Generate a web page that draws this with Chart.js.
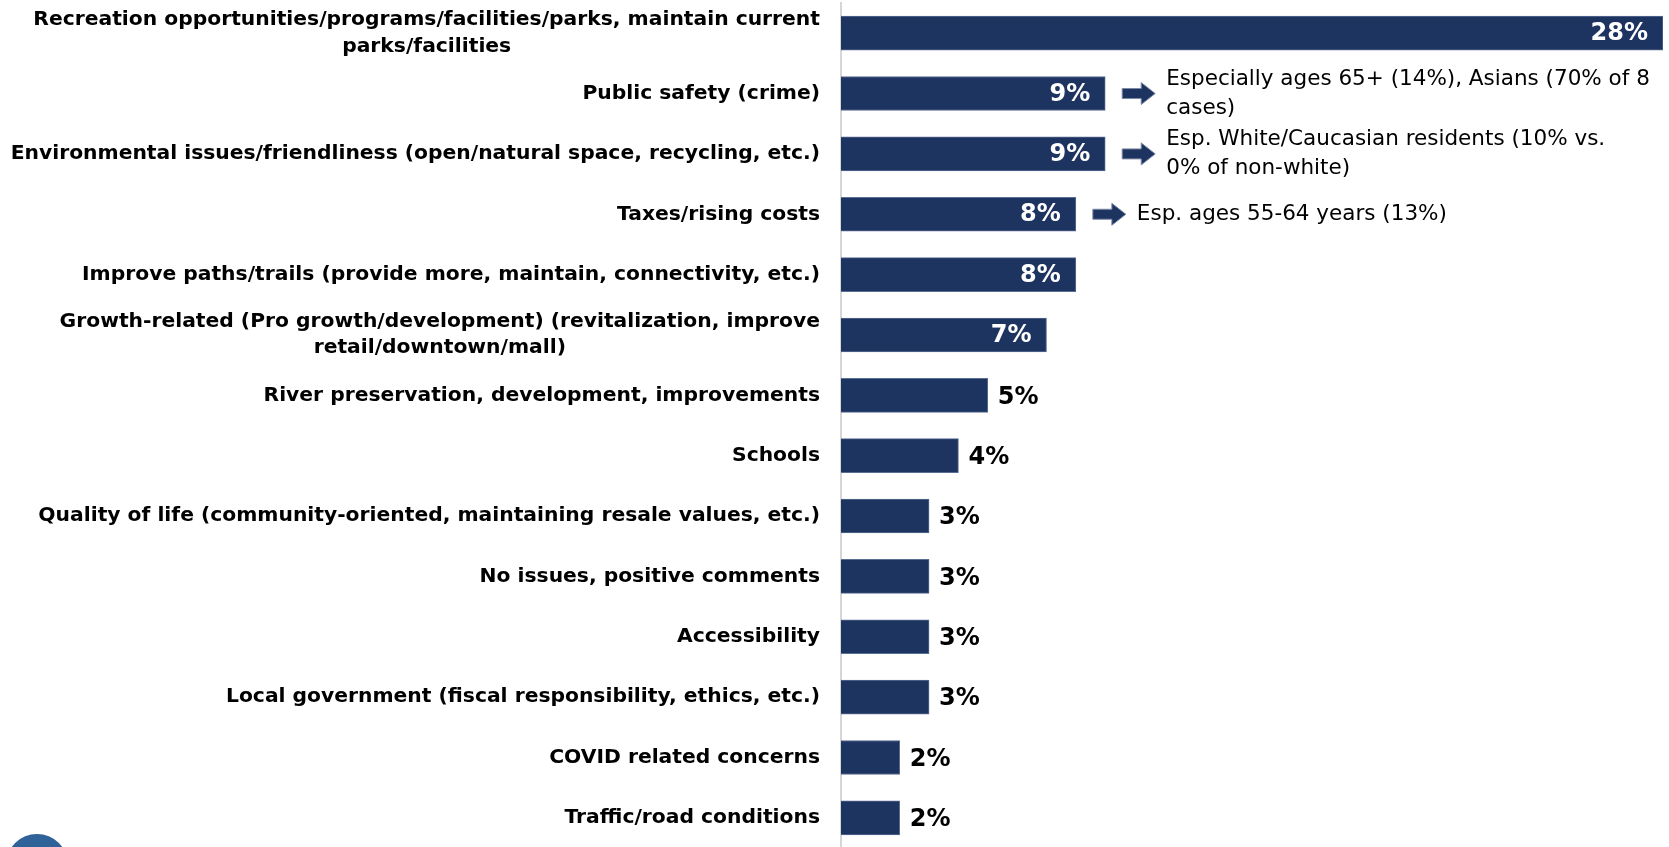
<!DOCTYPE html>
<html lang="en">
<head>
<meta charset="UTF-8">
<title>Most important issues</title>
<script src="https://cdn.jsdelivr.net/npm/chart.js"></script>
<style>
  html, body { margin: 0; padding: 0; background: #fff; overflow: hidden; }
  #wrap { position: relative; width: 1669px; height: 852px; }
</style>
</head>
<body>
<div id="wrap"><canvas id="chart"></canvas></div>
<script>
const categories = [
  ['Recreation opportunities/programs/facilities/parks, maintain current', 'parks/facilities'],
  'Public safety (crime)',
  'Environmental issues/friendliness (open/natural space, recycling, etc.)',
  'Taxes/rising costs',
  'Improve paths/trails (provide more, maintain, connectivity, etc.)',
  ['Growth-related (Pro growth/development) (revitalization, improve', 'retail/downtown/mall)'],
  'River preservation, development, improvements',
  'Schools',
  'Quality of life (community-oriented, maintaining resale values, etc.)',
  'No issues, positive comments',
  'Accessibility',
  'Local government (fiscal responsibility, ethics, etc.)',
  'COVID related concerns',
  'Traffic/road conditions'
];
const percents = [28, 9, 9, 8, 8, 7, 5, 4, 3, 3, 3, 3, 2, 2];
const notes = [
  null,
  ['Especially ages 65+ (14%), Asians (70% of 8', 'cases)'],
  ['Esp. White/Caucasian residents (10% vs.', '0% of non-white)'],
  ['Esp. ages 55-64 years (13%)']
];

const NAVY = '#1d3360';
const insideFrom = 6; // values at or above this get their label inside the bar

// draws category labels, value labels, callouts and the corner logo
const decorations = {
  id: 'decorations',
  afterDraw(chart) {
    const ctx = chart.ctx;
    const yScale = chart.scales.y;
    const area = chart.chartArea;
    const bars = chart.getDatasetMeta(0).data;
    ctx.save();

    // category labels (multi-line ones centred on themselves)
    ctx.font = 'bold 20.3px "DejaVu Sans"';
    ctx.fillStyle = '#000';
    ctx.textBaseline = 'middle';
    ctx.textAlign = 'center';
    categories.forEach((lab, i) => {
      const lines = Array.isArray(lab) ? lab : [lab];
      const w = Math.max(...lines.map(l => ctx.measureText(l).width));
      const cx = area.left - 21 - w / 2;
      const cy = yScale.getPixelForTick(i);
      lines.forEach((l, j) => {
        ctx.fillText(l, cx, cy + (j - (lines.length - 1) / 2) * 26.5);
      });
    });

    // value labels
    ctx.font = 'bold 24px "DejaVu Sans"';
    bars.forEach((bar, i) => {
      const txt = percents[i] + '%';
      if (percents[i] >= insideFrom) {
        ctx.fillStyle = '#fff';
        ctx.textAlign = 'right';
        ctx.fillText(txt, bar.x - 15, bar.y + 1);
      } else {
        ctx.fillStyle = '#000';
        ctx.textAlign = 'left';
        ctx.fillText(txt, bar.x + 10, bar.y + 2);
      }
    });

    // callouts with block arrows
    ctx.font = '21.5px "DejaVu Sans"';
    ctx.textAlign = 'left';
    notes.forEach((note, i) => {
      if (!note) return;
      const bar = bars[i];
      const x0 = bar.x + 17;
      const y = bar.y;
      ctx.beginPath();
      ctx.moveTo(x0, y - 5);
      ctx.lineTo(x0 + 19, y - 5);
      ctx.lineTo(x0 + 19, y - 11);
      ctx.lineTo(x0 + 33, y);
      ctx.lineTo(x0 + 19, y + 11);
      ctx.lineTo(x0 + 19, y + 5);
      ctx.lineTo(x0, y + 5);
      ctx.closePath();
      ctx.fillStyle = NAVY;
      ctx.fill();
      ctx.strokeStyle = '#7d8aa5';
      ctx.lineWidth = 1;
      ctx.stroke();
      ctx.fillStyle = '#000';
      note.forEach((l, j) => {
        ctx.fillText(l, x0 + 44, y + (j - (note.length - 1) / 2) * 29);
      });
    });

    // corner logo peeking in at bottom left
    ctx.beginPath();
    ctx.arc(37, 865, 31, 0, Math.PI * 2);
    ctx.fillStyle = '#2f6298';
    ctx.fill();
    ctx.restore();
  }
};

new Chart(document.getElementById('chart'), {
  type: 'bar',
  data: {
    labels: categories,
    datasets: [{
      data: percents,
      backgroundColor: NAVY,
      borderColor: '#5a6d93',
      borderWidth: 1,
      borderSkipped: 'left',
      barThickness: 34
    }]
  },
  options: {
    indexAxis: 'y',
    responsive: true,
    maintainAspectRatio: false,
    animation: false,
    layout: { padding: { top: 3, bottom: 4, right: 6, left: 0 } },
    plugins: { legend: { display: false }, tooltip: { enabled: false } },
    scales: {
      x: { display: false, min: 0, max: 28 },
      y: {
        grid: { display: false },
        ticks: { display: false },
        border: { display: true, color: '#d6d6d6', width: 2 },
        afterFit(s) { s.width = 841; }
      }
    }
  },
  plugins: [decorations]
});
</script>
</body>
</html>
